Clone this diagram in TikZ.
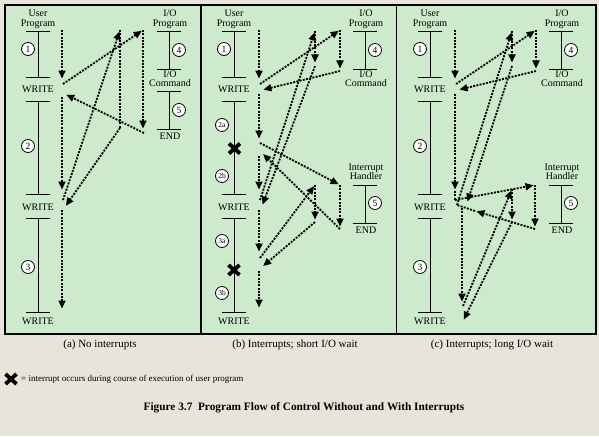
\documentclass[tikz,border=0pt]{standalone}
\usepackage{fontspec}
\setmainfont{Liberation Serif}
\usetikzlibrary{arrows.meta}

\definecolor{paper}{RGB}{233,228,217}
\definecolor{panelgreen}{RGB}{205,234,205}

\tikzset{
  flow/.style={line width=1.8pt, dash pattern=on 2pt off 1.3pt, shorten >=1.5pt,
    -{Triangle[length=8pt,width=7pt]}},
  flowseg/.style={line width=1.8pt, dash pattern=on 2pt off 1.3pt},
  num/.style={circle, draw, line width=0.8pt, fill=white, inner sep=0pt,
    minimum size=13pt, font=\fontsize{9.5}{9.5}\selectfont},
  numsmall/.style={num, font=\fontsize{7.5}{7.5}\selectfont},
  lbl/.style={inner sep=0pt, align=center, font=\fontsize{10}{9.5}\selectfont},
  bar/.style={line width=0.8pt},
  xmark/.pic={\draw [line width=3.8pt] (-5.5,-5) -- (5.5,5) (-5.5,5) -- (5.5,-5);},
}

\begin{document}
\begin{tikzpicture}[x=1pt, y=-1pt]
 \fill [paper] (0,0) rectangle (599,436);
 \useasboundingbox (0,0) rectangle (599,436);

 % the three panels
 \filldraw [fill=panelgreen, line width=1.6pt] (5,5) rectangle (596,334);
 \draw [line width=1.6pt] (201,5) -- (201,334) (396.5,5) -- (396.5,334);

 % user program and I/O program, same in every panel
 \foreach \p/\px in {a/5, b/201, c/397} {
 \begin{scope}[shift={(\px,0)}]
  \node [lbl] (\p-user) at (33,19.5) {User\\Program};
  \foreach \y in {31,77,101,194,218,312} \draw [bar] (21,\y) -- (45,\y);
  \draw [bar] (33,31) -- (33,77) (33,101) -- (33,194) (33,218) -- (33,312);
  \node [lbl] (\p-w1) at (33,89) {WRITE};
  \node [lbl] (\p-w2) at (33,207) {WRITE};
  \node [lbl] (\p-w3) at (33,321) {WRITE};
  \node [num] (\p-n1) at (23,49) {1};

  \node [lbl] (\p-io) at (165,19.5) {I/O\\Program};
  \node [lbl] (\p-cmd) at (165,78.5) {I/O\\Command};
  \draw [bar] (152,31) -- (176,31) (164,31) -- (164,69) (152,69) -- (176,69);
  \node [num] (\p-n4) at (174,50) {4};
 \end{scope}
 }

 % (a) no interrupts
 \begin{scope}[shift={(5,0)}]
  \node [num] (a-n2) at (23,146) {2};
  \node [num] (a-n3) at (23,267) {3};
  \draw [bar] (152,91) -- (176,91) (164,91) -- (164,129) (152,129) -- (176,129);
  \node [num] (a-n5) at (174,110) {5};
  \node [lbl] (a-end) at (165,136) {END};

  \draw [flow] (57,30) -- (57,80);
  \draw [flow] (58,84) -- (138,30);
  \draw [flow] (138,30) -- (138,130);
  \draw [flow] (139,133) -- (60,94);
  \draw [flow] (57,97) -- (57,191);
  \draw [flow] (58,200) -- (115,30);
  \draw [flowseg] (115,30) -- (115,128);
  \draw [flow] (115,128) -- (60,207);
  \draw [flow] (57,210) -- (57,310);
 \end{scope}

 % (b) interrupts, short wait
 \begin{scope}[shift={(201,0)}]
  \node [numsmall] (b-n2a) at (21,125) {2a};
  \node [numsmall] (b-n2b) at (21,176) {2b};
  \node [numsmall] (b-n3a) at (21,241) {3a};
  \node [numsmall] (b-n3b) at (21,293) {3b};
  \pic at (33.5,148.5) {xmark};
  \pic at (33,270) {xmark};
  \node [lbl] (b-ih) at (165,172) {Interrupt\\Handler};
  \draw [bar] (152,185) -- (176,185) (164,185) -- (164,223) (152,223) -- (176,223);
  \node [num] (b-n5) at (174,203) {5};
  \node [lbl] (b-end) at (165,230) {END};

  \draw [flow] (58,30) -- (58,80);
  \draw [flow] (59,84) -- (139,30);
  \draw [flow] (139,30) -- (139,70);
  \draw [flow] (139,71) -- (61,90);
  \draw [flow] (58,94) -- (58,140);
  \draw [flow] (59,143) -- (139,185);
  \draw [flow] (139,185) -- (139,228);
  \draw [flow] (139,229) -- (61,153);
  \draw [flow] (58,156) -- (58,191);
  \draw [flow] (59,200) -- (114,31);
  \draw [flow] (114,31) -- (114,64);
  \draw [flow] (114,66) -- (61,206);
  \draw [flow] (58,210) -- (58,253);
  \draw [flow] (59,258) -- (114,185);
  \draw [flow] (114,185) -- (114,221);
  \draw [flow] (114,222) -- (61,267);
  \draw [flow] (58,271) -- (58,309);
 \end{scope}

 % (c) interrupts, long wait
 \begin{scope}[shift={(397,0)}]
  \node [num] (c-n2) at (23,146) {2};
  \node [num] (c-n3) at (23,267) {3};
  \node [lbl] (c-ih) at (165,172) {Interrupt\\Handler};
  \draw [bar] (152,185) -- (176,185) (164,185) -- (164,223) (152,223) -- (176,223);
  \node [num] (c-n5) at (174,203) {5};
  \node [lbl] (c-end) at (165,230) {END};

  \draw [flow] (58,30) -- (58,80);
  \draw [flow] (59,84) -- (139,30);
  \draw [flow] (139,30) -- (139,70);
  \draw [flow] (139,71) -- (61,90);
  \draw [flow] (58,94) -- (58,191);
  \draw [flowseg] (58,191) -- (58,200);
  \draw [flow] (58,200) -- (138,185);
  \draw [flow] (138,185) -- (138,228);
  \draw [flow] (138,229) -- (78,211);
  \draw [flowseg] (78,211) -- (60,205);
  \draw [flow] (60,205) -- (115,31);
  \draw [flow] (115,31) -- (115,64);
  \draw [flow] (115,66) -- (70,203);
  \draw [flow] (65,208) -- (65,303);
  \draw [flow] (66,306) -- (115,189);
  \draw [flow] (115,189) -- (115,221);
  \draw [flow] (115,222) -- (66,321);
 \end{scope}

 % sub captions
 \node [font=\fontsize{11}{12}\selectfont] (cap-a) at (100,345) {(a) No interrupts};
 \node [font=\fontsize{11}{12}\selectfont] (cap-b) at (295,345) {(b) Interrupts; short I/O wait};
 \node [font=\fontsize{11}{12}\selectfont] (cap-c) at (492,345) {(c) Interrupts; long I/O wait};

 % legend and caption
 \pic at (11,379) {xmark};
 \node [anchor=west, inner sep=0pt, font=\fontsize{9}{10}\selectfont] (key) at (21,379)
   {= interrupt occurs during course of execution of user program};
 \node [font=\bfseries\fontsize{11.3}{13}\selectfont] (title) at (304,408)
   {Figure 3.7\ \ Program Flow of Control Without and With Interrupts};
\end{tikzpicture}
\end{document}
